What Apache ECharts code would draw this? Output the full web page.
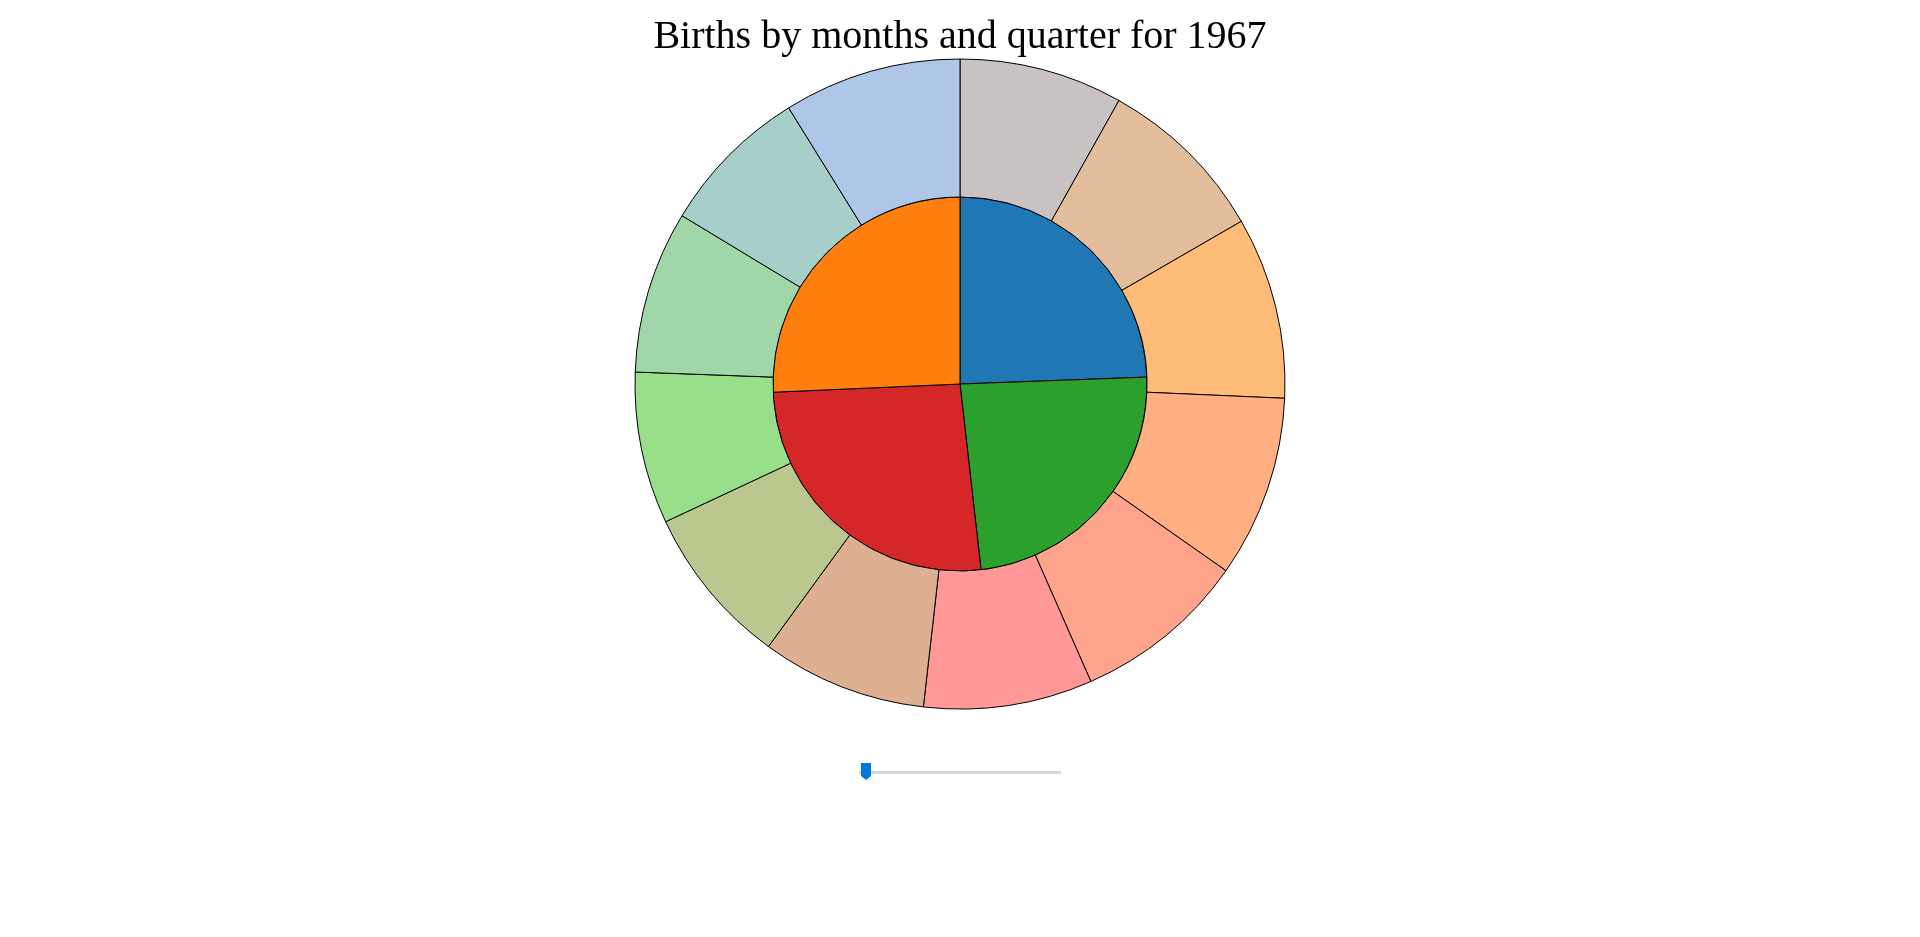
<!DOCTYPE html>
<html>
<head>
<meta charset="utf-8">
<script src="https://cdn.jsdelivr.net/npm/echarts@6/dist/echarts.min.js"></script>
<style>
html,body{margin:0;padding:0;background:#fff;}
#chart{width:1920px;height:937px;}
</style>
</head>
<body>
<div id="chart"></div>
<script>
// ---- data ----
const titleText = 'Births by months and quarter for 1967';
const months = ['Jan','Feb','Mar','Apr','May','Jun','Jul','Aug','Sep','Oct','Nov','Dec'];
const monthBirths = [286400, 300100, 318500, 318400, 305000, 295600, 290000, 281800, 265900, 284500, 264000, 311200];
const quarters = ['Q4','Q3','Q2','Q1'];
const quarterBirths = [859700, 837700, 919000, 905000];

// ---- palettes ----
const monthColors = ['#c9c2c2','#e3be9c','#ffbb78','#ffaf82','#ffa48c','#ff9896','#ddb092','#bac78e','#98df8a','#9fd7a9','#a7cfc9','#aec7e8'];
const quarterColors = ['#1f77b4','#2ca02c','#d62728','#ff7f0e'];

const chart = echarts.init(document.getElementById('chart'), null, {renderer:'canvas'});
const border = {borderColor:'#000', borderWidth:1};
chart.setOption({
  animation:false,
  title:{
    text:titleText, left:'center', top:12,
    textStyle:{fontFamily:'Liberation Serif', fontSize:40, fontWeight:'normal', color:'#000'}
  },
  series:[
    {
      type:'pie', center:[960,384], radius:[0,187], startAngle:90, clockwise:true,
      label:{show:false}, labelLine:{show:false}, emphasis:{disabled:true}, silent:true,
      itemStyle:border,
      data:quarters.map((q,i)=>({name:q, value:quarterBirths[i], itemStyle:{color:quarterColors[i]}}))
    },
    {
      type:'pie', center:[960,384], radius:[187,325], startAngle:90, clockwise:true,
      label:{show:false}, labelLine:{show:false}, emphasis:{disabled:true}, silent:true,
      itemStyle:border,
      data:months.map((m,i)=>({name:m, value:monthBirths[i], itemStyle:{color:monthColors[i]}}))
    }
  ],
  graphic:[
    {type:'rect', shape:{x:859, y:771, width:202, height:3}, style:{fill:'#d6d6d6'}},
    {type:'polygon', shape:{points:[[861,763],[871,763],[871,776],[866,780],[861,776]]}, style:{fill:'#0078d7'}}
  ]
});
</script>
</body>
</html>
